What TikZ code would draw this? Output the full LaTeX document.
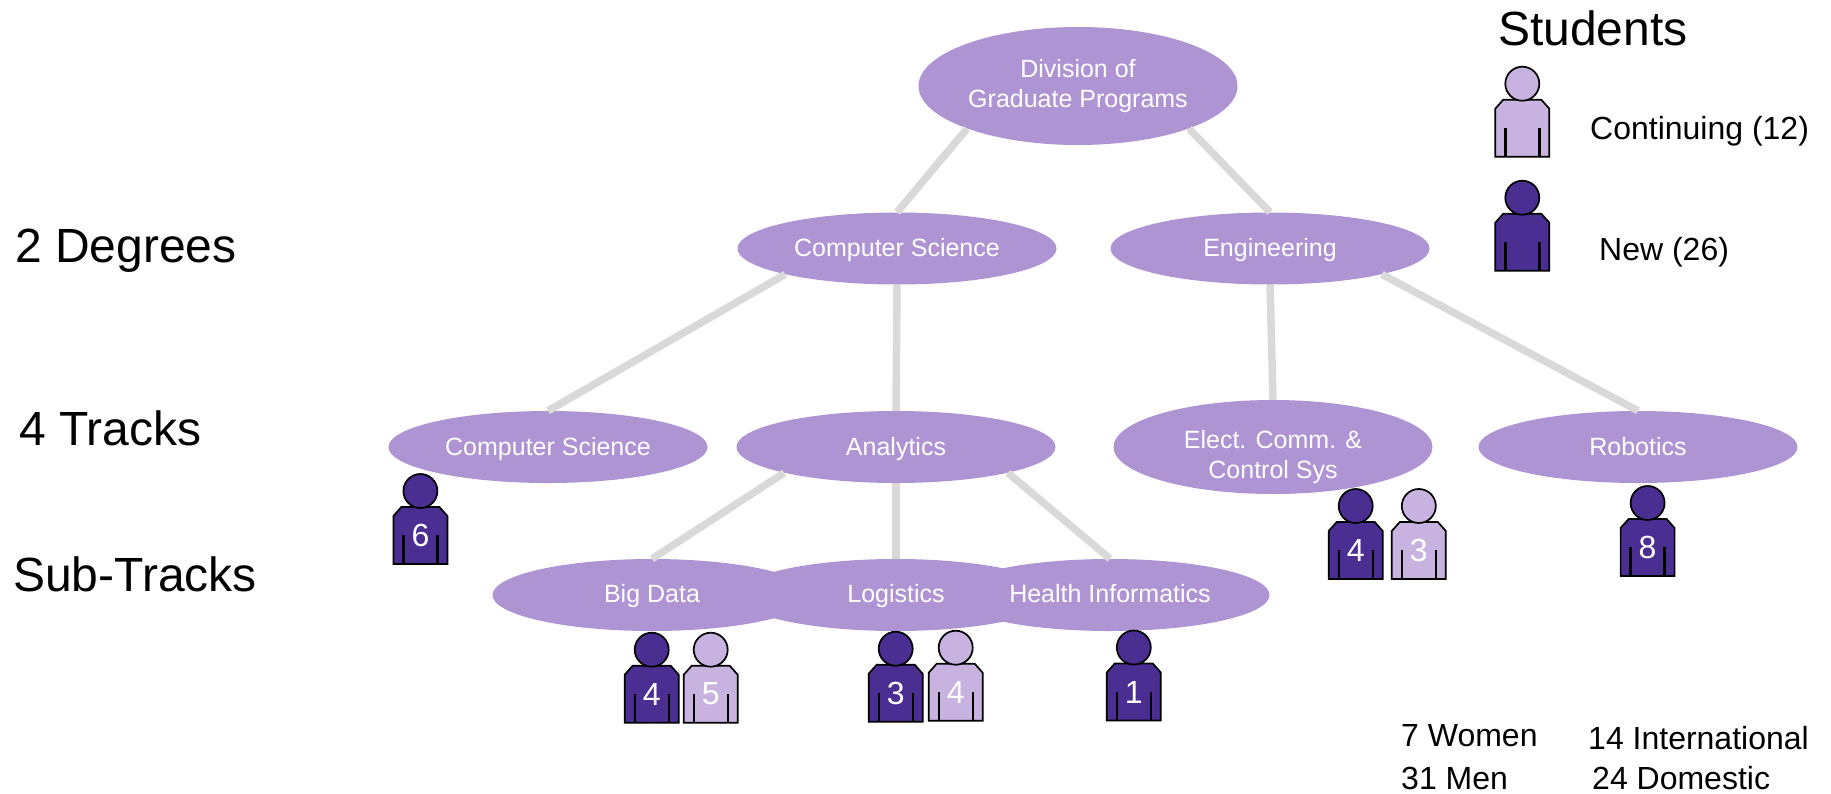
\documentclass[tikz,border=0pt]{standalone}
\usepackage{fontspec}
\setmainfont{Liberation Sans}
\usetikzlibrary{shapes.geometric}
\definecolor{oval}{HTML}{AF94D4}
\definecolor{dark}{HTML}{4B2E91}
\definecolor{light}{HTML}{C8B2E0}
\definecolor{link}{HTML}{D9D9D9}
\tikzset{
  x=1pt,y=-1pt,
  oval/.style={ellipse,fill=oval,draw=none,inner sep=0pt,minimum width=319pt,minimum height=72pt},
  bigoval/.style={oval,minimum height=118pt},
  midoval/.style={oval,minimum height=94pt},
  lab/.style={text=white,inner sep=0pt,align=center,font=\fontsize{25}{29.5}\selectfont},
  onelab/.style={lab,text height=17pt,text depth=0pt},
  link/.style={draw=link,line width=7.5pt},
  big/.style={anchor=base west,inner sep=0pt,font=\fontsize{48}{56}\selectfont},
  mid/.style={anchor=base west,inner sep=0pt,font=\fontsize{32}{38}\selectfont},
  num/.style={text=white,inner sep=0pt,font=\fontsize{32}{38}\selectfont},
  pics/person/.style={code={
    \draw[fill=#1,line width=1.7pt] (-27,0) -- (-27,-48) -- (-19,-57) -- (19,-57) -- (27,-48) -- (27,0) -- cycle;
    \draw[fill=#1,line width=1.7pt] (0,-73) circle (17);
    \draw[line width=2.4pt] (-17,0) -- (-17,-29) (17,0) -- (17,-29);
  }}
}
\begin{document}
\begin{tikzpicture}
\useasboundingbox (0,0) rectangle (1831,793);
% ovals
\node[bigoval] (div) at (1078,86) {};
\node[oval] (cs) at (897,248.5) {};
\node[oval] (eng) at (1270,248.5) {};
\node[oval] (tcs) at (548,447) {};
\node[oval] (ana) at (896,447) {};
\node[midoval] (ecc) at (1273,447) {};
\node[oval] (rob) at (1638,447) {};
\node[oval] (big) at (652,595) {};
\node[oval] (log) at (896,595) {};
\node[oval] (hea) at (1110,595) {};
% oval texts
\node[lab] (tdiv) at (1078,86) {Division of\\Graduate Programs};
\node[onelab] (tcst) at (897,248) {Computer Science};
\node[onelab] (teng) at (1270,248) {Engineering};
\node[onelab] (ttcs) at (548,447) {Computer Science};
\node[onelab] (tana) at (896,447) {Analytics};
\node[lab] (tecc) at (1273,457) {Elect. Comm. \&\\Control Sys};
\node[onelab] (trob) at (1638,447) {Robotics};
\node[onelab] (tbig) at (652,594) {Big Data};
\node[onelab] (tlog) at (896,594) {Logistics};
\node[onelab] (thea) at (1110,594) {Health Informatics};
% connectors
\draw[link] (div.201) -- (cs.north);
\draw[link] (div.339) -- (eng.north);
\draw[link] (cs.193) -- (tcs.north);
\draw[link] (cs.south) -- (ana.north);
\draw[link] (eng.south) -- (ecc.north);
\draw[link] (eng.347) -- (rob.north);
\draw[link] (ana.193) -- (big.north);
\draw[link] (ana.south) -- (log.north);
\draw[link] (ana.347) -- (hea.north);
% row labels
\node[big] (l1) at (15,262) {2 Degrees};
\node[big] (l2) at (19,445) {4 Tracks};
\node[big] (l3) at (13,591) {Sub-Tracks};
\node[big] (l4) at (1498,45) {Students};
\node[mid] (l5) at (1590,139) {Continuing (12)};
\node[mid] (l6) at (1599,260) {New (26)};
\node[mid] (l7) at (1401,746) {7 Women};
\node[mid] (l8) at (1401,789) {31 Men};
\node[mid] (l9) at (1588,749) {14 International};
\node[mid] (l10) at (1592,789) {24 Domestic};
% people
\pic (legc) at (1522.3,156.7) {person=light};
\pic (legn) at (1522.3,270.7) {person=dark};
\pic (p1) at (420.4,564) {person=dark};
\pic (p2) at (651.7,722.7) {person=dark};
\pic (p3) at (710.7,722.7) {person=light};
\pic (p4) at (895.7,721.7) {person=dark};
\pic (p5) at (955.7,720.7) {person=light};
\pic (p6) at (1133.8,720.5) {person=dark};
\pic (p7) at (1355.7,579) {person=dark};
\pic (p8) at (1418.8,579) {person=light};
\pic (p9) at (1647.6,576) {person=dark};
\node[num] (n1) at (420.4,535) {6};
\node[num] (n2) at (651.7,694) {4};
\node[num] (n3) at (710.7,694) {5};
\node[num] (n4) at (895.7,693) {3};
\node[num] (n5) at (955.7,692) {4};
\node[num] (n6) at (1133.8,692) {1};
\node[num] (n7) at (1355.7,550) {4};
\node[num] (n8) at (1418.8,550) {3};
\node[num] (n9) at (1647.6,547) {8};
\end{tikzpicture}
\end{document}
